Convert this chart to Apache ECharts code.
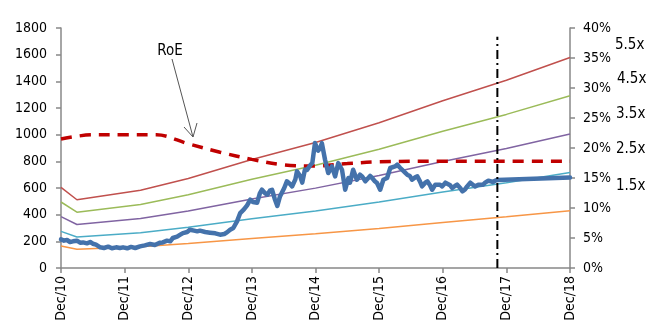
<!DOCTYPE html>
<html>
<head>
<meta charset="utf-8">
<script src="https://cdn.jsdelivr.net/npm/echarts@6/dist/echarts.min.js"></script>
<style>
  html, body { margin: 0; padding: 0; background: #fff; }
  #chart { width: 646px; height: 331px; }
</style>
</head>
<body>
<div id="chart"></div>
<script>
// Time runs in months from Dec 2010 (0) to Dec 2018 (96)
const xTicks = ['Dec/10', 'Dec/11', 'Dec/12', 'Dec/13', 'Dec/14', 'Dec/15', 'Dec/16', 'Dec/17', 'Dec/18'];

// Share price (left axis)
const priceT = [0, 0.57, 1.13, 1.7, 2.26, 3.0, 3.6, 4.15, 4.9, 5.5, 6.0, 6.6, 7.4, 8.1, 8.9, 9.6, 10.4, 11.1, 11.7, 12.5,
  13.2, 14.0, 14.9, 15.8, 16.8, 17.7, 18.7, 19.2, 20.0, 20.6, 21.1, 21.9, 22.5, 23.0, 23.8, 24.3, 25.1, 25.7, 26.2, 27.2,
  28.1, 29.1, 30.0, 30.8, 31.3, 31.9, 32.5, 33.2, 33.8, 34.5, 35.1, 35.7, 36.2, 37.0, 37.5, 37.9, 38.5, 38.9, 39.4, 39.8,
  40.3, 40.8, 41.3, 42.1, 42.6, 43.2, 43.6, 44.2, 44.5, 45.1, 45.5, 46.0, 46.4, 47.0, 47.4, 47.9, 48.5, 48.9, 49.2, 49.8,
  50.4, 51.1, 51.7, 52.3, 53.0, 53.6, 54.2, 54.5, 55.1, 55.8, 56.4, 56.8, 57.4, 57.7, 58.3, 58.7, 59.2, 59.6, 60.2, 60.8,
  61.5, 62.1, 63.0, 63.4, 64.0, 64.3, 64.9, 65.3, 65.8, 66.2, 66.8, 67.2, 67.7, 68.1, 68.7, 69.1, 69.6, 70.0, 70.6, 70.9,
  71.5, 71.9, 72.5, 72.8, 73.4, 73.8, 74.3, 74.7, 75.3, 75.7, 76.2, 76.6, 77.2, 77.5, 78.1, 78.7, 79.0, 79.6, 80.0, 80.6,
  80.9, 81.5, 81.9, 82.3, 96];
const priceV = [215, 205, 210, 195, 200, 205, 190, 192, 185, 195, 182, 175, 155, 150, 160, 148, 155, 150, 155, 148,
  158, 150, 162, 170, 180, 172, 190, 192, 205, 200, 225, 235, 250, 262, 270, 287, 280, 275, 280, 270,
  265, 260, 250, 255, 267, 287, 300, 350, 412, 440, 470, 512, 495, 490, 560, 587, 560, 550, 580, 587,
  520, 465, 537, 600, 650, 630, 612, 665, 725, 690, 640, 737, 735, 770, 787, 937, 880, 900, 937, 812,
  712, 762, 687, 787, 737, 587, 675, 640, 737, 662, 700, 687, 650, 662, 690, 675, 650, 637, 587, 662,
  675, 750, 762, 775, 750, 737, 715, 700, 690, 662, 680, 687, 650, 612, 640, 650, 620, 587, 625, 637,
  625, 612, 640, 650, 620, 600, 615, 625, 600, 575, 590, 612, 640, 650, 612, 625, 637, 625, 640, 655,
  650, 645, 655, 660, 678];

// P/BV band lines (left axis)
const bandT = [0, 3, 15, 24, 36, 48, 60, 72, 84, 96];
const band15 = [165, 140, 159, 183, 222, 257, 297, 342, 384, 430];
const band25 = [275, 233, 265, 305, 370, 428, 495, 570, 640, 717];
const band35 = [385, 326, 371, 427, 518, 599, 693, 798, 896, 1005];
const band45 = [495, 419, 477, 549, 666, 770, 891, 1026, 1152, 1292];
const band55 = [605, 512, 583, 671, 814, 941, 1089, 1254, 1408, 1579];
const bandNames = ['1.5x', '2.5x', '3.5x', '4.5x', '5.5x'];

// Return on equity, % (right axis)
const roeT = [0, 6, 12, 18, 24, 30, 36, 42, 48, 54, 60, 72, 84, 96];
const roeV = [21.5, 22.2, 22.2, 22.2, 20.7, 19.3, 18.1, 17.2, 17.0, 17.4, 17.7, 17.8, 17.8, 17.8];

// Vertical marker for the latest actual date
const markerT = 82.3;
const markerTop = 1735;

const FONT = 'DejaVu Sans Condensed, DejaVu Sans, sans-serif';
const zip = (t, v) => t.map((x, i) => [x, v[i]]);

const bands = [band15, band25, band35, band45, band55];
const bandColors = ['#F79646', '#4BACC6', '#8064A2', '#9BBB59', '#C0504D'];

const series = bands.map((b, i) => ({
  name: bandNames[i],
  type: 'line',
  data: zip(bandT, b),
  showSymbol: false,
  lineStyle: { color: bandColors[i], width: 1.5 },
  z: 2
}));

series.push({
  name: 'RoE',
  type: 'line',
  yAxisIndex: 1,
  data: zip(roeT, roeV),
  smooth: 0.35,
  showSymbol: false,
  lineStyle: { color: '#C00000', width: 3.5, type: [11, 8] },
  z: 3
});

series.push({
  name: 'Price',
  type: 'line',
  data: zip(priceT, priceV),
  showSymbol: false,
  lineStyle: { color: '#4472AB', width: 4.5, join: 'round', cap: 'round' },
  z: 4
});

series.push({
  name: 'marker',
  type: 'line',
  data: [[markerT, 0], [markerT, markerTop]],
  showSymbol: false,
  lineStyle: { color: '#000', width: 2, type: [9, 4, 2, 4] },
  z: 5
});

// Band tags beside the right axis
const tagPos = [[616, 187], [616, 150], [616, 115], [617, 80], [615, 46]];

const chart = echarts.init(document.getElementById('chart'), null, { renderer: 'canvas' });
chart.setOption({
  animation: false,
  backgroundColor: '#fff',
  grid: { left: 61, right: 76, top: 28, bottom: 63 },
  xAxis: {
    type: 'value',
    min: 0, max: 96, interval: 12,
    splitLine: { show: false },
    axisLine: { lineStyle: { color: '#888', width: 1.5 } },
    axisTick: { show: true, length: 5, lineStyle: { color: '#888', width: 1.5 } },
    axisLabel: {
      rotate: 90, margin: 8, color: '#000', fontFamily: FONT, fontSize: 14,
      formatter: v => xTicks[Math.round(v / 12)]
    }
  },
  yAxis: [
    {
      type: 'value', min: 0, max: 1800, interval: 200,
      splitLine: { show: false },
      axisLine: { show: true, lineStyle: { color: '#888', width: 1.5 } },
      axisTick: { show: true, length: 5, lineStyle: { color: '#888', width: 1.5 } },
      axisLabel: { color: '#000', fontFamily: FONT, fontSize: 14, margin: 14, formatter: v => String(v) }
    },
    {
      type: 'value', min: 0, max: 40, interval: 5, position: 'right',
      splitLine: { show: false },
      axisLine: { show: true, lineStyle: { color: '#888', width: 1.5 } },
      axisTick: { show: true, length: 5, lineStyle: { color: '#888', width: 1.5 } },
      axisLabel: { color: '#000', fontFamily: FONT, fontSize: 14, margin: 13, formatter: '{value}%' }
    }
  ],
  series: series,
  graphic: [
    ...bandNames.map((n, i) => ({
      type: 'text', left: tagPos[i][0], top: tagPos[i][1] - 8,
      style: { text: n, fill: '#000', font: '15px ' + FONT }
    })),
    {
      type: 'text', x: 170, y: 51,
      style: { text: 'RoE', fill: '#000', font: '15px ' + FONT, align: 'center', verticalAlign: 'middle' }
    },
    {
      type: 'line', shape: { x1: 172, y1: 59, x2: 193, y2: 137 },
      style: { stroke: '#555', lineWidth: 1 }
    },
    {
      type: 'polyline', shape: { points: [[184, 127], [193, 137], [197, 123]] },
      style: { stroke: '#555', lineWidth: 1, fill: null }
    }
  ]
});
</script>
</body>
</html>
